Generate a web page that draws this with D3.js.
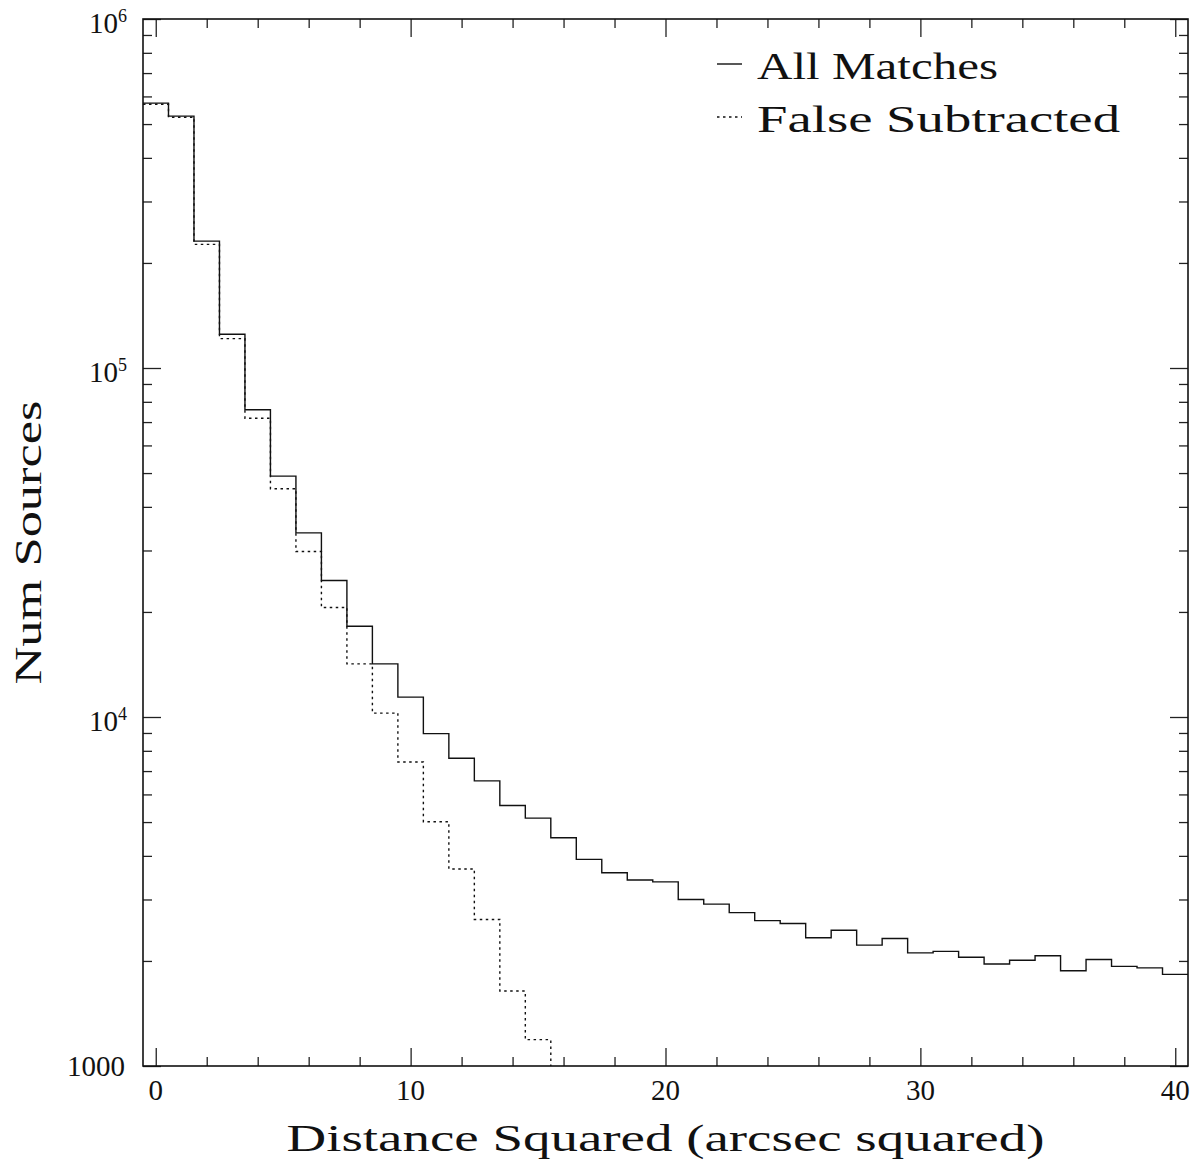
<!DOCTYPE html>
<html>
<head>
<meta charset="utf-8">
<script src="https://cdn.jsdelivr.net/npm/d3@7"></script>
<style>
  body { margin: 0; background: #fff; }
  svg text { font-family: "Liberation Serif", "DejaVu Serif", serif; fill: #111; }
</style>
</head>
<body>
<div id="chart"></div>
<script>
// Histogram bins (centres, width 1 arcsec^2)
var binCenters = [0, 1, 2, 3, 4, 5, 6, 7, 8, 9, 10, 11, 12, 13, 14, 15, 16, 17, 18, 19, 20,
  21, 22, 23, 24, 25, 26, 27, 28, 29, 30, 31, 32, 33, 34, 35, 36, 37, 38, 39, 40];
var binWidth = 1;

// Counts
var allMatches = [574000, 527000, 231000, 125000, 75900, 49000, 33700, 24600, 18200, 14200,
  11400, 8960, 7620, 6560, 5580, 5130, 4510, 3910, 3580, 3410, 3370, 3000, 2910, 2750, 2610,
  2560, 2330, 2450, 2220, 2320, 2110, 2130, 2050, 1960, 2010, 2070, 1875, 2020, 1930, 1910, 1830];
var falseSubtracted = [570000, 523000, 226000, 121400, 71800, 45100, 29800, 20600, 14200,
  10260, 7430, 5010, 3670, 2630, 1640, 1190];

// Axis labels
var xTickValues = [0, 10, 20, 30, 40];
var yTickValues = [1000, 10000, 100000, 1000000];
var legendLabels = ["All Matches", "False Subtracted"];

// Setting chart parameters
var svgWidth = 1197;
var svgHeight = 1162;
var margin = { top: 19, right: 9, bottom: 96, left: 143 };
var width = svgWidth - margin.left - margin.right;
var height = svgHeight - margin.top - margin.bottom;

var svg = d3.select("#chart")
  .append("svg")
  .attr("width", svgWidth)
  .attr("height", svgHeight);

var chart = svg.append("g").attr("transform", `translate(${margin.left}, ${margin.top})`);

// Scales
var xScale = d3.scaleLinear()
  .domain([binCenters[0] - binWidth / 2, binCenters[binCenters.length - 1] + binWidth / 2])
  .range([0, width]);
var yScale = d3.scaleLog().domain([1000, 1000000]).range([height, 0]);

var xMinor = xScale.ticks(20).filter(function(d) { return xTickValues.indexOf(d) < 0; });
var yMinor = yScale.ticks().filter(function(d) { return yTickValues.indexOf(d) < 0; });

// Inward ticks on all four sides
function cleanAxis(g) {
  g.select(".domain").remove();
  g.selectAll("text").remove();
  g.selectAll("line").attr("stroke", "#222").attr("stroke-width", 1.3);
}
var major = 18;
var minor = 9;
chart.append("g").attr("transform", `translate(0, ${height})`)
  .call(d3.axisBottom(xScale).tickValues(xTickValues).tickSize(-major)).call(cleanAxis);
chart.append("g").attr("transform", `translate(0, ${height})`)
  .call(d3.axisBottom(xScale).tickValues(xMinor).tickSize(-minor)).call(cleanAxis);
chart.append("g")
  .call(d3.axisTop(xScale).tickValues(xTickValues).tickSize(-major)).call(cleanAxis);
chart.append("g")
  .call(d3.axisTop(xScale).tickValues(xMinor).tickSize(-minor)).call(cleanAxis);
chart.append("g")
  .call(d3.axisLeft(yScale).tickValues(yTickValues).tickSize(-major)).call(cleanAxis);
chart.append("g")
  .call(d3.axisLeft(yScale).tickValues(yMinor).tickSize(-minor)).call(cleanAxis);
chart.append("g").attr("transform", `translate(${width}, 0)`)
  .call(d3.axisRight(yScale).tickValues(yTickValues).tickSize(-major)).call(cleanAxis);
chart.append("g").attr("transform", `translate(${width}, 0)`)
  .call(d3.axisRight(yScale).tickValues(yMinor).tickSize(-minor)).call(cleanAxis);

// Clip for the histograms
chart.append("clipPath").attr("id", "plotClip")
  .append("rect").attr("width", width).attr("height", height);

// Step lines
var line = d3.line()
  .x(function(d) { return xScale(d.x); })
  .y(function(d) { return yScale(d.y); })
  .curve(d3.curveStepAfter);

function stepPoints(values, dropToFloor) {
  var pts = values.map(function(v, i) {
    return { x: binCenters[i] - binWidth / 2, y: v };
  });
  var lastEdge = binCenters[values.length - 1] + binWidth / 2;
  pts.push({ x: lastEdge, y: values[values.length - 1] });
  if (dropToFloor) pts.push({ x: lastEdge, y: yScale.domain()[0] });
  return pts;
}

chart.append("path")
  .attr("clip-path", "url(#plotClip)")
  .attr("d", line(stepPoints(allMatches, false)))
  .attr("fill", "none")
  .attr("stroke", "#111")
  .attr("stroke-width", 1.4);

chart.append("path")
  .attr("clip-path", "url(#plotClip)")
  .attr("d", line(stepPoints(falseSubtracted, true)))
  .attr("fill", "none")
  .attr("stroke", "#111")
  .attr("stroke-width", 1.4)
  .attr("stroke-dasharray", "2.5,3.5");

// Frame
chart.append("rect")
  .attr("width", width)
  .attr("height", height)
  .attr("fill", "none")
  .attr("stroke", "#111")
  .attr("stroke-width", 1.6);

// X tick labels
chart.selectAll(".xlab").data(xTickValues).enter()
  .append("text")
  .attr("class", "xlab")
  .attr("x", function(d) { return xScale(d); })
  .attr("y", height + 34)
  .attr("text-anchor", "middle")
  .style("font-size", "29px")
  .text(function(d) { return d; });

// Y tick labels (powers of ten)
yTickValues.forEach(function(v) {
  var exp = Math.round(Math.log10(v));
  var t = chart.append("text")
    .attr("text-anchor", "end")
    .style("font-size", "29px");
  if (exp === 3) {
    t.attr("x", -18).attr("y", yScale(v) + 9.5).text(v);
  } else {
    t.attr("x", -16).attr("y", yScale(v) + 13.5);
    t.append("tspan").text("10");
    t.append("tspan").attr("dy", -11).style("font-size", "18px").text(exp);
  }
});

// Axis titles
chart.append("text")
  .attr("x", width / 2)
  .attr("y", height + 85)
  .attr("text-anchor", "middle")
  .attr("textLength", 758)
  .attr("lengthAdjust", "spacingAndGlyphs")
  .style("font-size", "38px")
  .text("Distance Squared (arcsec squared)");

chart.append("text")
  .attr("transform", `translate(${41 - margin.left}, ${height / 2}) rotate(-90)`)
  .attr("text-anchor", "middle")
  .attr("textLength", 284)
  .attr("lengthAdjust", "spacingAndGlyphs")
  .style("font-size", "38px")
  .text("Num Sources");

// Legend
var legendX = 717 - margin.left;
var legendLen = [241, 363];
var legendBase = [79 - margin.top, 132 - margin.top];
legendLabels.forEach(function(label, i) {
  chart.append("line")
    .attr("x1", legendX)
    .attr("x2", legendX + 25)
    .attr("y1", legendBase[i] - 15)
    .attr("y2", legendBase[i] - 15)
    .attr("stroke", "#111")
    .attr("stroke-width", 1.4)
    .attr("stroke-dasharray", i === 1 ? "2.5,3.5" : null);
  chart.append("text")
    .attr("x", legendX + 40)
    .attr("y", legendBase[i])
    .attr("textLength", legendLen[i])
    .attr("lengthAdjust", "spacingAndGlyphs")
    .style("font-size", "38px")
    .text(label);
});
</script>
</body>
</html>
